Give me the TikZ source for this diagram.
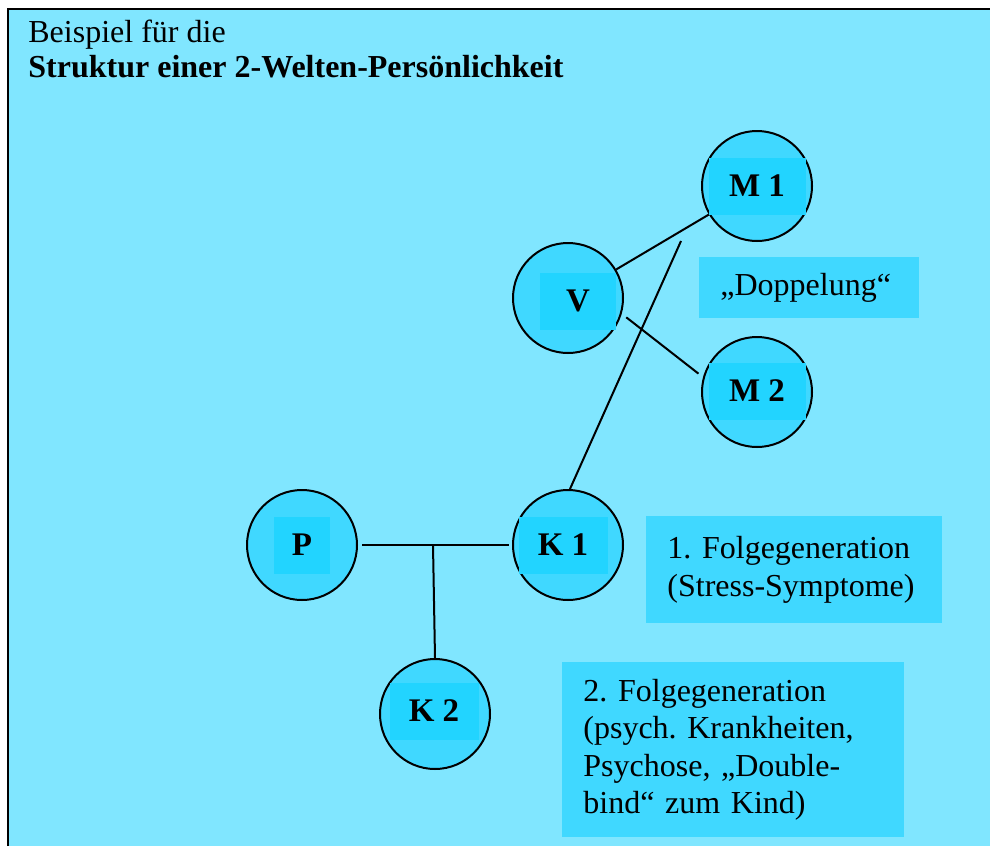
\documentclass[tikz,border=0pt]{standalone}
\usepackage{fontspec}
\setmainfont{Liberation Serif}
\definecolor{bg}{RGB}{128,230,255}
\definecolor{circ}{RGB}{64,216,255}
\definecolor{inner}{RGB}{34,212,255}
\definecolor{boxc}{RGB}{64,216,255}
\frenchspacing
\begin{document}
\begin{tikzpicture}[x=0.5pt,y=-0.5pt,
  person/.style={circle,draw=black,line width=1pt,fill=circ,minimum size=55pt,inner sep=0pt},
  tag/.style={fill=inner,inner sep=0pt,minimum height=28.5pt,font=\fontsize{16.5}{19}\selectfont\bfseries},
  infobox/.style={fill=boxc,inner ysep=0pt,inner xsep=10.5pt,align=left,anchor=north west,font=\fontsize{16}{18.75}\selectfont},
  titletext/.style={anchor=base west,inner sep=0pt,font=\fontsize{16}{18}\selectfont},
  link/.style={line width=1pt}]
\useasboundingbox (0,0) rectangle (990,846);
\fill[white] (0,0) rectangle (990,846);
\fill[bg] (7,8) rectangle (990,846);
\draw[line width=1pt] (7.5,846) -- (7.5,8.5) -- (990,8.5);

\node[titletext] (t1) at (28,42) {Beispiel für die};
\node[titletext] (t2) at (28,77) {\bfseries Struktur einer 2-Welten-Persönlichkeit};

% circles
\node[person] (cM1) at (757,186) {};
\node[person] (cV) at (568,298) {};
\node[person] (cM2) at (757,392) {};
\node[person] (cP) at (302,545) {};
\node[person] (cK1) at (568,545) {};
\node[person] (cK2) at (435,714) {};

\node[tag,minimum width=48.5pt] (M1) at (757,186) {M 1};
\node[tag,minimum width=38pt] (V) at (578,301) {V};
\node[tag,minimum width=48.5pt] (M2) at (757,391) {M 2};
\node[tag,minimum width=28pt] (P) at (302,545) {P};
\node[tag,minimum width=44.5pt] (K1) at (563,545) {K 1};
\node[tag,minimum width=44.5pt] (K2) at (434,711) {K 2};

% connectors
\draw[link] (cV) -- (cM1);
\draw[link] ([shift={(5,2)}]cV.-18) -- ([shift={(-5,-2)}]cM2.163);
\coordinate (e) at (681,241);
\draw[link] (cK1.88) -- (e);
\draw[link] ([xshift=2pt]cP.east) -- ([xshift=-1.5pt]cK1.west);
\coordinate (j) at (433,545);
\draw[link] (j) -- (cK2.north);

% info boxes
\node[infobox,text width=89pt,minimum height=30.5pt] (dop) at (699,257) {„Doppelung“};
\node[infobox,text width=127pt,minimum height=53.5pt] (g1) at (646,516) {1. Folgegeneration\\(Stress-Symptome)};
\node[infobox,text width=150pt,minimum height=87.5pt] (g2) at (562,662) {2. Folgegeneration\\(psych. Krankheiten,\\Psychose, „Double-\\bind“ zum Kind)};
\end{tikzpicture}
\end{document}
